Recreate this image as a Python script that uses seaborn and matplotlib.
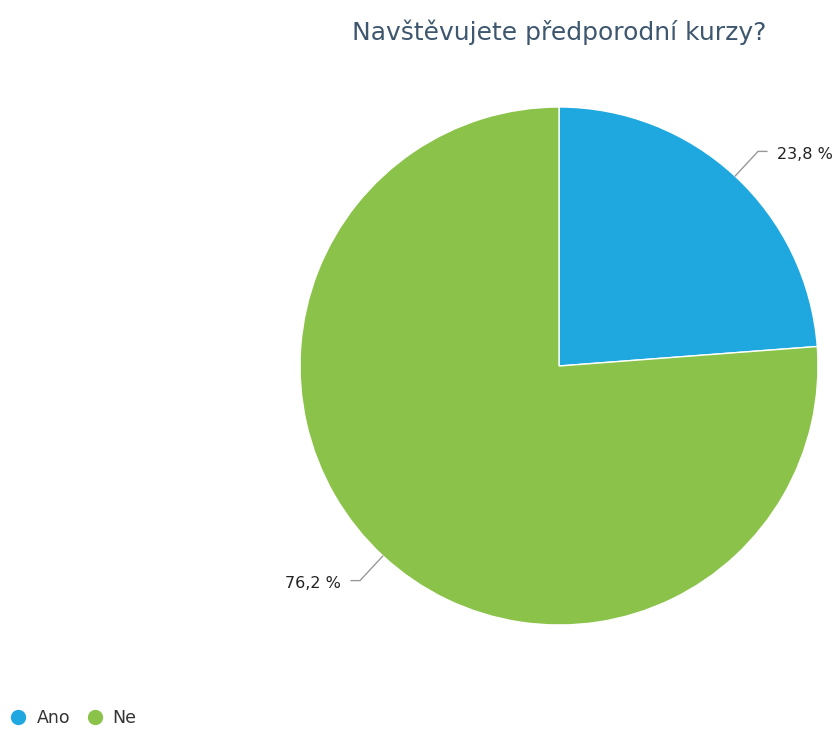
import numpy as np
import matplotlib
matplotlib.use("Agg")
import matplotlib.pyplot as plt
import seaborn as sns
from matplotlib.lines import Line2D

categories = ["Ano", "Ne"]
values = [23.8, 76.2]
labels = ["23,8 %", "76,2 %"]
colors = ["#1fa8e0", "#8bc34a"]
title = "Navštěvujete předporodní kurzy?"

sns.set_theme(style="white")
plt.rcParams['font.family'] = ['DejaVu Sans']

W, H = 839, 729
fig = plt.figure(figsize=(W / 100, H / 100), dpi=100)
cx, cy, r = 559, 366, 259
ax = fig.add_axes([(cx - r) / W, (H - cy - r) / H, 2 * r / W, 2 * r / H])

wedges, _ = ax.pie(values, colors=colors, startangle=90, counterclock=False,
                   radius=1, wedgeprops=dict(edgecolor="white", linewidth=1))
ax.set_xlim(-1, 1)
ax.set_ylim(-1, 1)
ax.axis("off")

for w, lab in zip(wedges, labels):
    ang = np.deg2rad((w.theta1 + w.theta2) / 2)
    ex, ey = np.cos(ang), np.sin(ang)
    bx, by = 1.13 * ex, 1.13 * ey
    sgn = 1 if ex >= 0 else -1
    hx = bx + sgn * 0.035
    ax.plot([ex, bx, hx], [ey, by, by], color="#999999", lw=1, clip_on=False,
            solid_joinstyle="round")
    ax.text(bx + sgn * 0.075, by - 0.012, lab, ha="left" if sgn > 0 else "right",
            va="center", fontsize=11.5, color="#222222", clip_on=False)

fig.text(559.5 / W, 1 - 32 / H, title, ha="center", va="center",
         fontsize=18, color="#3e576f")

handles = [Line2D([0], [0], marker="o", linestyle="none", markersize=10,
                  markerfacecolor=c, markeredgecolor=c) for c in colors]
fig.legend(handles, categories, loc="center left",
           bbox_to_anchor=(1 / W, 1 - 718 / H), frameon=False, ncol=2,
           fontsize=12.5, handletextpad=0.05, columnspacing=0.4,
           labelcolor="#333333", borderaxespad=0, borderpad=0)

fig.savefig("out.png", dpi=100)
